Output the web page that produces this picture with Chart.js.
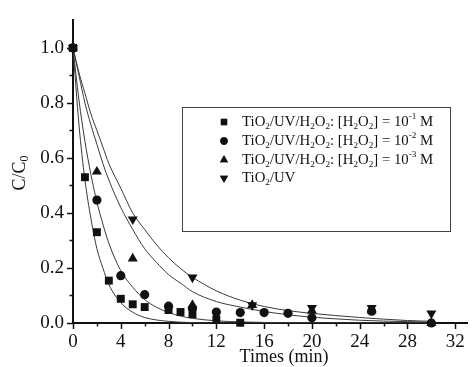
<!DOCTYPE html>
<html>
<head>
<meta charset="utf-8">
<script src="https://cdn.jsdelivr.net/npm/chart.js@4.4.1/dist/chart.umd.min.js"></script>
<style>
  html, body { margin: 0; padding: 0; background: #fff; }
  #wrap { width: 473px; height: 367px; position: relative; }
</style>
</head>
<body>
<div id="wrap"><canvas id="chart"></canvas></div>
<script>
// C/C0 vs time, four conditions + fitted decay curves

const seriesLabels = [
  'TiO_2/UV/H_2O_2: [H_2O_2] = 10^-1 M',
  'TiO_2/UV/H_2O_2: [H_2O_2] = 10^-2 M',
  'TiO_2/UV/H_2O_2: [H_2O_2] = 10^-3 M',
  'TiO_2/UV'
];

// measured points
const tH2O2_1 = [0, 1, 2, 3, 4, 5, 6, 8, 9, 10, 12, 14];
const cH2O2_1 = [1.0, 0.53, 0.33, 0.154, 0.088, 0.068, 0.058, 0.047, 0.04, 0.032, 0.013, 0.001];
const tH2O2_2 = [0, 2, 4, 6, 8, 10, 12, 14, 16, 18, 20, 25, 30];
const cH2O2_2 = [1.0, 0.447, 0.172, 0.103, 0.061, 0.053, 0.04, 0.038, 0.038, 0.035, 0.019, 0.043, 0.0];
const tH2O2_3 = [0, 2, 5, 10, 15, 20, 25, 30];
const cH2O2_3 = [1.0, 0.55, 0.234, 0.065, 0.065, 0.045, 0.045, 0.0];
const tUV = [0, 5, 10, 15, 20, 25, 30];
const cUV = [1.0, 0.377, 0.166, 0.065, 0.055, 0.055, 0.035];

// fitted curves
const tFit = [0, 0.5, 1, 1.5, 2, 2.5, 3, 4, 5, 6, 7, 8, 9, 10, 12, 14, 16, 18, 20, 22, 24, 26, 28, 30];
const fitH2O2_1 = [1, 0.72, 0.52, 0.38, 0.27, 0.20, 0.14, 0.074, 0.039, 0.02, 0.011, 0.006, 0.003, 0.0015, 0.0005, 0, 0, 0, 0, 0, 0, 0, 0, 0];
const fitH2O2_2 = [1, 0.81, 0.66, 0.54, 0.44, 0.36, 0.29, 0.19, 0.13, 0.085, 0.057, 0.038, 0.025, 0.017, 0.008, 0.004, 0.002, 0.001, 0, 0, 0, 0, 0, 0];
const fitH2O2_3 = [1, 0.90, 0.80, 0.72, 0.65, 0.58, 0.52, 0.42, 0.34, 0.27, 0.22, 0.176, 0.145, 0.114, 0.078, 0.058, 0.042, 0.03, 0.021, 0.015, 0.01, 0.007, 0.005, 0.003];
const fitUV = [1, 0.91, 0.835, 0.76, 0.70, 0.64, 0.58, 0.49, 0.40, 0.34, 0.284, 0.237, 0.198, 0.166, 0.117, 0.083, 0.06, 0.045, 0.035, 0.027, 0.02, 0.014, 0.009, 0.006];

const xTicks = [0, 4, 8, 12, 16, 20, 24, 28, 32];
const xMinor = [2, 6, 10, 14, 18, 22, 26, 30];
const yTicks = [0, 0.2, 0.4, 0.6, 0.8, 1.0];
const yMinor = [0.1, 0.3, 0.5, 0.7, 0.9];

const SERIF = "'Liberation Serif', 'Times New Roman', serif";
const INK = '#111';
const CURVE = '#3a3a3a';

const markers = [
  { style: 'rect', radius: 5.6, rotation: 0 },
  { style: 'circle', radius: 4.6, rotation: 0 },
  { style: 'triangle', radius: 5.8, rotation: 0 },
  { style: 'triangle', radius: 5.8, rotation: 180 }
];

const pts = (ts, cs) => ts.map((t, i) => ({ x: t, y: cs[i] }));

const pointSets = [
  pts(tH2O2_1, cH2O2_1), pts(tH2O2_2, cH2O2_2), pts(tH2O2_3, cH2O2_3), pts(tUV, cUV)
].map((d, i) => ({
  label: seriesLabels[i],
  data: d,
  showLine: false,
  pointStyle: markers[i].style,
  pointRadius: markers[i].radius,
  rotation: markers[i].rotation,
  backgroundColor: INK,
  borderColor: INK,
  borderWidth: 0,
  clip: false,
  order: 1
}));

const curveSets = [fitH2O2_1, fitH2O2_2, fitH2O2_3, fitUV].map(f => ({
  data: pts(tFit, f),
  showLine: true,
  pointRadius: 0,
  borderColor: CURVE,
  borderWidth: 1,
  cubicInterpolationMode: 'monotone',
  fill: false,
  order: 2
}));

// draw text with _x subscripts and ^x superscripts
function richText(ctx, str, x, y, size) {
  const parts = str.split(/(_[0-9]|\^-?[0-9]+)/).filter(s => s.length);
  let cx = x;
  parts.forEach(p => {
    let txt = p, fs = size, dy = 0;
    if (p[0] === '_') { txt = p.slice(1); fs = size * 0.62; dy = size * 0.28; }
    else if (p[0] === '^') { txt = p.slice(1); fs = size * 0.62; dy = -size * 0.38; }
    ctx.font = fs + 'px ' + SERIF;
    ctx.fillText(txt, cx, y + dy);
    cx += ctx.measureText(txt).width;
  });
  return cx;
}

const decorPlugin = {
  id: 'decor',
  afterDraw(chart) {
    const ctx = chart.ctx;
    const xs = chart.scales.x, ys = chart.scales.y;
    const ca = chart.chartArea;
    ctx.save();
    ctx.strokeStyle = INK;
    ctx.lineWidth = 1.5;
    ctx.beginPath();
    xTicks.forEach(v => { const p = Math.round(xs.getPixelForValue(v)) + 0.5; ctx.moveTo(p, ca.bottom); ctx.lineTo(p, ca.bottom + 6); });
    xMinor.forEach(v => { const p = Math.round(xs.getPixelForValue(v)) + 0.5; ctx.moveTo(p, ca.bottom); ctx.lineTo(p, ca.bottom + 3.5); });
    yTicks.forEach(v => { const p = Math.round(ys.getPixelForValue(v)) + 0.5; ctx.moveTo(ca.left, p); ctx.lineTo(ca.left - 6, p); });
    yMinor.forEach(v => { const p = Math.round(ys.getPixelForValue(v)) + 0.5; ctx.moveTo(ca.left, p); ctx.lineTo(ca.left - 3.5, p); });
    ctx.stroke();

    // axis titles
    ctx.fillStyle = INK;
    ctx.textBaseline = 'middle';
    ctx.textAlign = 'center';
    ctx.font = '18px ' + SERIF;
    ctx.fillText('Times (min)', 284, 357);

    ctx.save();
    ctx.translate(20, 173);
    ctx.rotate(-Math.PI / 2);
    ctx.textAlign = 'left';
    ctx.font = '18px ' + SERIF;
    const w = ctx.measureText('C/C').width;
    ctx.font = '12px ' + SERIF;
    const w0 = ctx.measureText('0').width;
    const sx = -(w + w0) / 2;
    ctx.font = '18px ' + SERIF;
    ctx.fillText('C/C', sx, 0);
    ctx.font = '12px ' + SERIF;
    ctx.fillText('0', sx + w, 5);
    ctx.restore();

    // legend box
    ctx.lineWidth = 1;
    ctx.strokeStyle = '#444';
    ctx.strokeRect(182.5, 107.5, 268, 124);
    const rowY = [122, 141, 160, 178];
    ctx.textAlign = 'left';
    ctx.textBaseline = 'middle';
    rowY.forEach((ry, i) => {
      const m = markers[i];
      ctx.fillStyle = INK;
      Chart.helpers.drawPoint(ctx, {
        pointStyle: m.style, rotation: m.rotation, radius: m.radius * 0.8, borderWidth: 0
      }, 224, ry);
      ctx.fill();
      richText(ctx, seriesLabels[i], 242, ry, 14.8);
    });
    ctx.restore();
  }
};

new Chart(document.getElementById('chart'), {
  type: 'scatter',
  data: { datasets: pointSets.concat(curveSets) },
  options: {
    responsive: true,
    maintainAspectRatio: false,
    animation: false,
    layout: { padding: { top: 17, right: 2, left: 0, bottom: 0 } },
    plugins: { legend: { display: false }, tooltip: { enabled: false } },
    scales: {
      x: {
        type: 'linear', min: 0, max: 33,
        afterFit: s => { s.height = 44; },
        afterBuildTicks: s => { s.ticks = xTicks.map(v => ({ value: v })); },
        grid: { display: false, drawTicks: false },
        border: { display: true, width: 2, color: INK },
        ticks: { color: INK, padding: 8, maxRotation: 0, font: { family: SERIF, size: 19 } }
      },
      y: {
        type: 'linear', min: 0, max: 1.1,
        afterFit: s => { s.width = 73; },
        afterBuildTicks: s => { s.ticks = yTicks.map(v => ({ value: v })); },
        grid: { display: false, drawTicks: false },
        border: { display: true, width: 2, color: INK },
        ticks: { color: INK, padding: 9, font: { family: SERIF, size: 19 }, callback: v => v.toFixed(1) }
      }
    }
  },
  plugins: [decorPlugin]
});
</script>
</body>
</html>
